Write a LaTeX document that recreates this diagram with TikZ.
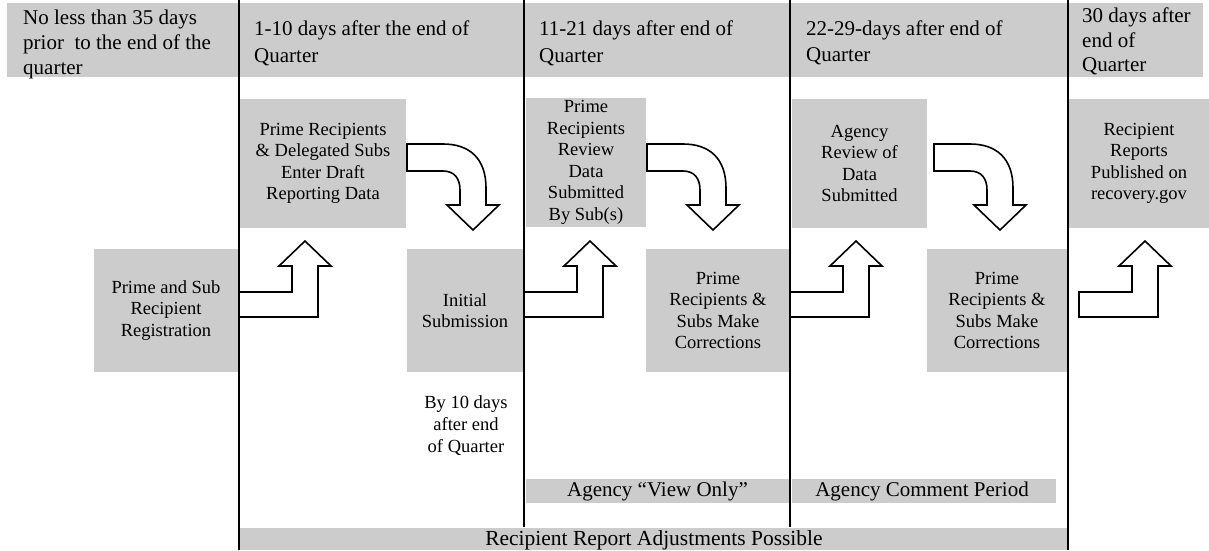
\documentclass[tikz,border=0pt]{standalone}
\usepackage{fontspec}
\setmainfont{Liberation Serif}
\definecolor{boxgray}{RGB}{204,204,204}
\tikzset{
  fillbox/.style={fill=boxgray, draw=none, inner sep=0pt, align=center,
    font=\fontsize{18.5}{21.5}\selectfont},
  headtext/.style={anchor=north west, inner sep=0pt, align=left,
    font=\fontsize{21}{25}\selectfont},
  plaintext/.style={inner sep=0pt, align=center, font=\fontsize{18.5}{22}\selectfont},
  bartext/.style={inner sep=0pt, font=\fontsize{21}{25}\selectfont},
  sepline/.style={line width=2.2pt},
  blockarrow/.style={draw=black, fill=white, line width=1.6pt, line join=miter},
  uparrow/.pic={
    \draw[blockarrow] (0,317) -- (79,317) -- (79,266) -- (92,266) -- (66,241)
      -- (40,266) -- (53,266) -- (53,292) -- (0,292) -- cycle;
  },
  turnarrow/.pic={
    \draw[blockarrow] (0,144) -- (36,144) .. controls (62,144) and (79,158) .. (79,188)
      -- (79,205) -- (92,205) -- (66,230) -- (40,205) -- (53,205) -- (53,190)
      .. controls (53,178) and (47,171) .. (36,171) -- (0,171) -- cycle;
  },
}
\begin{document}
\begin{tikzpicture}[x=1pt,y=-1pt]
\useasboundingbox (0,0) rectangle (1209,550);
% header fills
\fill[boxgray] (7,3) rectangle (239,77);
\fill[boxgray] (239,3) rectangle (524,77);
\fill[boxgray] (524,3) rectangle (790,77);
\fill[boxgray] (790,3) rectangle (1068,77);
\fill[boxgray] (1068,3) rectangle (1203,77);
% header texts
\node[headtext] (h1) at (23,9.5) {No less than 35 days\\prior\ \ to the end of the\\quarter};
\node[headtext, font=\fontsize{21}{27}\selectfont] (h2) at (254,21) {1-10 days after the end of\\Quarter};
\node[headtext, font=\fontsize{21}{27}\selectfont] (h3) at (539,21) {11-21 days after end of\\Quarter};
\node[headtext, font=\fontsize{21}{26}\selectfont] (h4) at (806,21) {22-29-days after end of\\Quarter};
\node[headtext, font=\fontsize{21}{24.5}\selectfont] (h5) at (1082,8) {30 days after\\end of\\Quarter};
% row 2 boxes
\node[fillbox, minimum width=166, minimum height=129] (enter) at (323,163.5)
  {Prime Recipients\\\& Delegated Subs\\Enter Draft\\Reporting Data};
\node[fillbox, minimum width=120, minimum height=129] (review) at (586,162.5)
  {Prime\\Recipients\\Review\\Data\\Submitted\\By Sub(s)};
\node[fillbox, minimum width=135, minimum height=129] (agency) at (859.5,163.5)
  {Agency\\Review of\\Data\\Submitted};
\node[fillbox, minimum width=140, minimum height=129] (publish) at (1139,163.5)
  {Recipient\\Reports\\Published on\\recovery.gov};
% row 3 boxes
\node[fillbox, minimum width=144, minimum height=123] (reg) at (166,310.5)
  {Prime and Sub\\Recipient\\Registration};
\node[fillbox, minimum width=116, minimum height=123] (init) at (465,310.5)
  {Initial\\Submission};
\node[fillbox, minimum width=144, minimum height=123] (corr1) at (718,310.5)
  {Prime\\Recipients \&\\Subs Make\\Corrections};
\node[fillbox, minimum width=140, minimum height=123] (corr2) at (997,310.5)
  {Prime\\Recipients \&\\Subs Make\\Corrections};
% deadline note
\node[plaintext] (by10) at (466,426) {By 10 days\\after end\\of Quarter};
% bars
\fill[boxgray] (526,479) rectangle (789,503);
\node[bartext] (view) at (657.5,491) {Agency “View Only”};
\fill[boxgray] (792,479) rectangle (1056,503);
\node[bartext] (comment) at (922,491) {Agency Comment Period};
\fill[boxgray] (240,528) rectangle (1068,550);
\node[bartext, font=\fontsize{21.5}{26}\selectfont, anchor=base] (adjust) at (654,545)
  {Recipient Report Adjustments Possible};
% block arrows
\pic at (239,0) {uparrow};
\pic at (524,0) {uparrow};
\pic at (790,0) {uparrow};
\pic at (1079,0) {uparrow};
\pic at (407,0) {turnarrow};
\pic at (647,0) {turnarrow};
\pic at (934,0) {turnarrow};
% separator lines
\draw[sepline] (239,0) -- (239,550);
\draw[sepline] (524,0) -- (524,527);
\draw[sepline] (790,0) -- (790,527);
\draw[sepline] (1068,0) -- (1068,550);
\end{tikzpicture}
\end{document}
